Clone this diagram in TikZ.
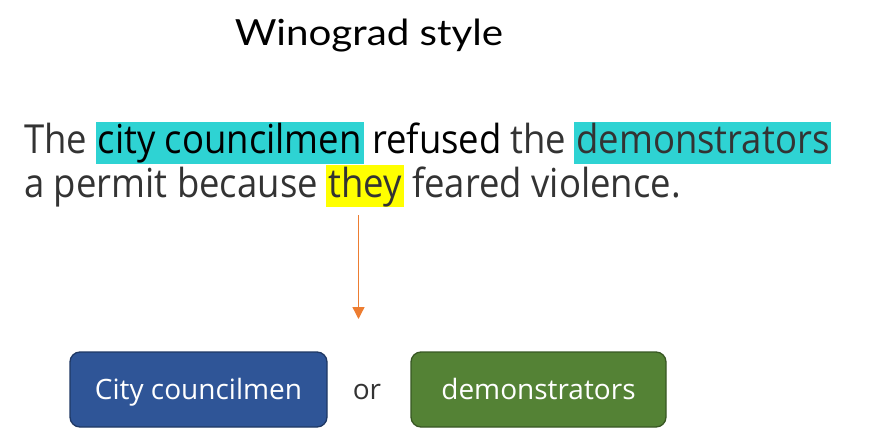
\documentclass[tikz,border=0pt]{standalone}
\usepackage{fontspec}
\newfontfamily\bodyfont[FakeStretch=0.912]{Open Sans}
\newfontfamily\titlefont[FakeStretch=1.12]{Lato}
\newfontfamily\boxfont{Open Sans}
\definecolor{hlcyan}{HTML}{2ED3D3}
\definecolor{hlyellow}{HTML}{FFFF00}
\definecolor{txtgray}{HTML}{333333}
\definecolor{arroworange}{HTML}{ED7D31}
\definecolor{bluefill}{HTML}{2F5597}
\definecolor{blueedge}{HTML}{1F3864}
\definecolor{greenfill}{HTML}{548235}
\definecolor{greenedge}{HTML}{385723}
\usetikzlibrary{arrows.meta}
\begin{document}
\begin{tikzpicture}[x=1pt,y=-1pt,
  word/.style={inner sep=0pt,anchor=base west,font=\bodyfont\fontsize{40}{40}\selectfont,text=txtgray},
  hl/.style={word,inner xsep=2pt,inner ysep=0pt,text height=32pt,text depth=10pt},
  choice/.style={rounded corners=10pt,line width=1.3pt,minimum width=257pt,minimum height=75pt,
     text=white,font=\boxfont\fontsize{28}{28}\selectfont,text height=20pt,text depth=0pt},
  gap/.style={xshift=8pt}]
\useasboundingbox (0,0) rectangle (871,429);
\node[font=\titlefont\fontsize{36}{36}\selectfont,anchor=base] (title) at (369,45) {Winograd style};
% line 1
\node[word] (w1) at (24,153.5) {The};
\node[hl,fill=hlcyan,anchor=base west,text=black] (w2) at ([gap]w1.base east) {city councilmen};
\node[word,text=black] (w3) at ([gap]w2.base east) {refused};
\node[word] (w4) at ([gap]w3.base east) {the};
\node[hl,fill=hlcyan] (w5) at ([gap]w4.base east) {demonstrators};
% line 2
\node[word] (v1) at (24,197) {a permit because};
\node[hl,fill=hlyellow] (v2) at ([gap]v1.base east) {they};
\node[word] (v3) at ([gap]v2.base east) {feared violence.};
% arrow
\coordinate (astart) at (358.5,215);
\coordinate (aend) at (358.5,319);
\draw[arroworange,line width=1.3pt,-{Triangle[length=12pt,width=12pt]}] (astart) -- (aend);
% choices
\node[choice,fill=bluefill,draw=blueedge] (c1) at (198.5,389.5) {City councilmen};
\node[font=\boxfont\fontsize{28}{28}\selectfont,text=txtgray,text height=20pt,text depth=0pt] (or) at (367,389.5) {or};
\node[choice,fill=greenfill,draw=greenedge,minimum width=255pt] (c2) at (538.5,389.5) {demonstrators};
\end{tikzpicture}
\end{document}
